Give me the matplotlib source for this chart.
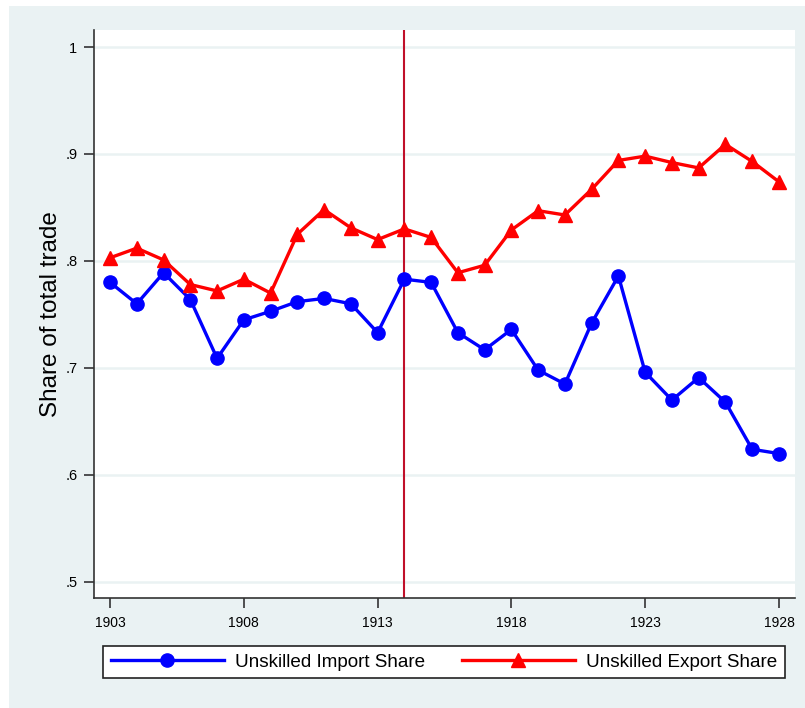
import numpy as np
import matplotlib
matplotlib.use("Agg")
import matplotlib.pyplot as plt
from matplotlib.patches import Rectangle

plt.rcParams['font.family'] = ['Liberation Sans', 'DejaVu Sans']

# datos
years = list(range(1903, 1929))
import_share = [0.780, 0.760, 0.789, 0.764, 0.709, 0.745, 0.753, 0.762, 0.765, 0.760,
                0.733, 0.783, 0.780, 0.733, 0.717, 0.736, 0.698, 0.685, 0.742, 0.786,
                0.696, 0.670, 0.691, 0.668, 0.624, 0.620]
export_share = [0.803, 0.812, 0.801, 0.778, 0.772, 0.783, 0.770, 0.825, 0.848, 0.831,
                0.820, 0.830, 0.822, 0.789, 0.796, 0.829, 0.847, 0.843, 0.867, 0.894,
                0.898, 0.892, 0.887, 0.909, 0.893, 0.874]
xticks = [1903, 1908, 1913, 1918, 1923, 1928]
yticks = [0.5, 0.6, 0.7, 0.8, 0.9, 1.0]
ylabels = ['.5', '.6', '.7', '.8', '.9', '1']
corte = 1914

W, H = 805, 708
bg = '#EAF2F3'
fig = plt.figure(figsize=(W / 100, H / 100), dpi=100, facecolor='white')
# fondo estilo Stata
fig.patches.append(Rectangle((9 / W, 0), 1 - 9 / W, 1 - 6 / H, transform=fig.transFigure,
                             facecolor=bg, edgecolor='none', zorder=-5))

ax = fig.add_axes([94 / W, 1 - 598 / H, (795 - 94) / W, (598 - 30) / H])
ax.set_facecolor('white')

for y in yticks:
    ax.axhline(y, color=bg, lw=1.8, zorder=1)
ax.axvline(corte, color='#C0102A', lw=1.5, zorder=2)

ax.plot(years, import_share, color='#0000FF', lw=2.4, marker='o', ms=9.5,
        label='Unskilled Import Share', zorder=3)
ax.plot(years, export_share, color='#FF0000', lw=2.4, marker='^', ms=10,
        label='Unskilled Export Share', zorder=3)

ax.set_xlim(1902.4, 1928.6)
ax.set_ylim(0.485, 1.0159)
ax.set_xticks(xticks)
ax.set_yticks(yticks)
ax.set_yticklabels(ylabels)
ax.tick_params(axis='both', length=7, width=1.2, color='#333333', labelsize=10)
ax.tick_params(axis='y', pad=5, labelsize=10.5)
ax.tick_params(axis='x', pad=6)
ax.set_ylabel('Share of total trade', fontsize=17.5, labelpad=2)

for s in ['top', 'right']:
    ax.spines[s].set_visible(False)
for s in ['left', 'bottom']:
    ax.spines[s].set_color('#333333')
    ax.spines[s].set_linewidth(1.2)

leg = fig.legend(loc='center', ncol=2, mode='expand',
                 bbox_to_anchor=(103 / W, 1 - 681 / H, (785 - 103) / W, 38 / H),
                 borderaxespad=0, fontsize=13.6, handlelength=6.0, handletextpad=0.6,
                 columnspacing=1.0, frameon=True, fancybox=False, framealpha=1,
                 borderpad=0.4)
leg.get_frame().set_edgecolor('#222222')
leg.get_frame().set_linewidth(1.2)

plt.savefig('out.png', dpi=100, facecolor=fig.get_facecolor())
